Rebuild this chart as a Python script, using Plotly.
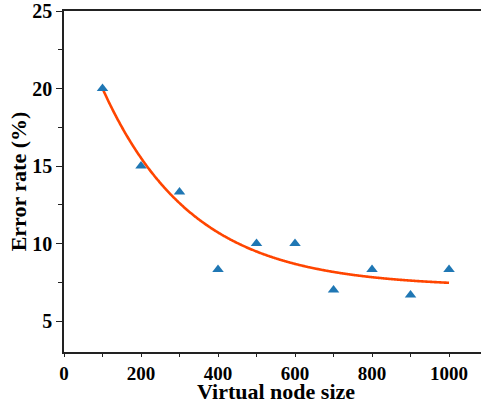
import numpy as np
import plotly.graph_objects as go

# Measured error rate for each virtual node size
node_size = [100, 200, 300, 400, 500, 600, 700, 800, 900, 1000]
error_rate = [20.0, 15.0, 13.33, 8.33, 10.0, 10.0, 7.0, 8.33, 6.67, 8.33]

# Exponential decay trend: y = y0 + A * exp(-x / t)
fit_y0 = 7.2
fit_A = 19.7
fit_t = 232.0

x_fit = np.linspace(min(node_size), max(node_size), 300)
y_fit = fit_y0 + fit_A * np.exp(-x_fit / fit_t)

FONT = "Liberation Serif"

fig = go.Figure()
fig.add_trace(go.Scatter(
    x=x_fit, y=y_fit, mode="lines",
    line=dict(color="#ff4500", width=2.6, shape="spline"),
    hoverinfo="skip", showlegend=False,
))
fig.add_trace(go.Scatter(
    x=node_size, y=error_rate, mode="markers",
    marker=dict(symbol="triangle-up", size=10, color="#1f77b4"),
    showlegend=False,
))

axis_common = dict(
    showgrid=False, zeroline=False,
    showline=True, linecolor="#222", linewidth=1.6,
    ticks="outside", tickwidth=1.4, tickcolor="#222",
)

fig.update_xaxes(
    **axis_common,
    ticklen=3,
    tickfont=dict(family=FONT, size=19, color="black", weight="bold"),
    range=[0, 1083], tickvals=[0, 200, 400, 600, 800, 1000],
    minor=dict(tickvals=[100, 300, 500, 700, 900], ticklen=3, tickwidth=1.2, tickcolor="#222", ticks="outside"),
    mirror=True,
)
fig.update_yaxes(
    **axis_common,
    ticklen=6,
    tickfont=dict(family=FONT, size=20, color="black", weight="bold"),
    range=[3, 25], tickvals=[5, 10, 15, 20, 25],
    minor=dict(tickvals=[7.5, 12.5, 17.5, 22.5], ticklen=4, tickwidth=1.2, tickcolor="#222", ticks="outside"),
    title=dict(text="Error rate (%)", font=dict(family=FONT, size=22, color="black", weight="bold"), standoff=0),
)

# x-axis title placed just under the tick labels
fig.add_annotation(
    text="<b>Virtual node size</b>", xref="x", x=551, yref="paper", y=0,
    yanchor="bottom", yshift=-53, showarrow=False, borderpad=0,
    font=dict(family=FONT, size=22, color="black"),
)

fig.update_layout(
    width=481, height=406,
    margin=dict(l=64, r=0, t=11, b=54),
    plot_bgcolor="white", paper_bgcolor="white",
)

fig.write_html("out.html")
